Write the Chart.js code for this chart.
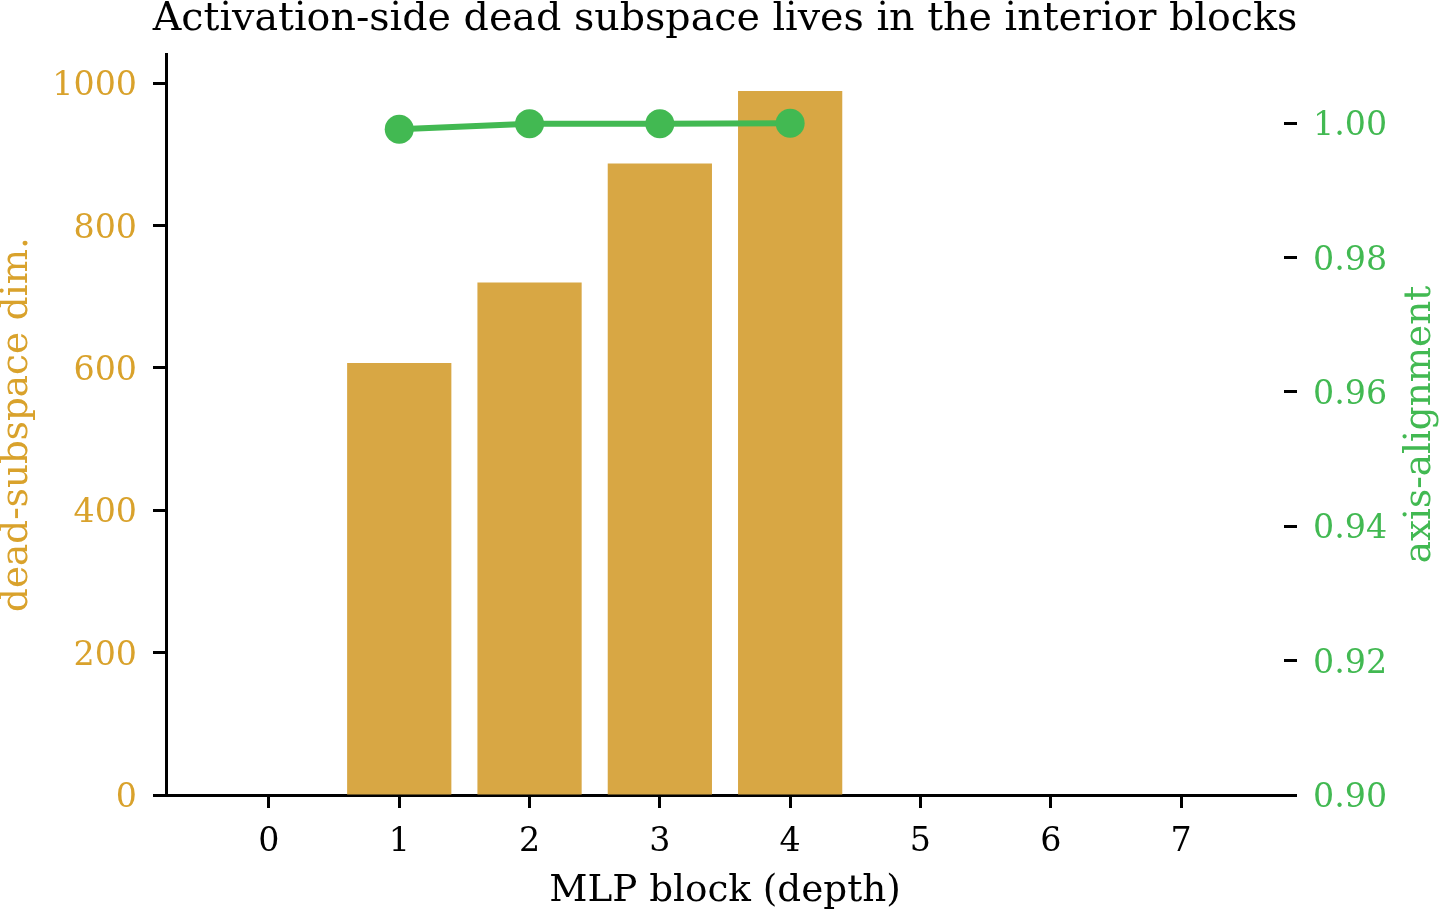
<!DOCTYPE html>
<html><head><meta charset="utf-8">
<script src="https://cdn.jsdelivr.net/npm/chart.js@4.4.1/dist/chart.umd.min.js"></script>
<style>html,body{margin:0;padding:0;background:#fff;}canvas{display:block;}</style>
</head><body>
<canvas id="c" width="1441" height="910"></canvas>
<script>
const blocks = [0, 1, 2, 3, 4, 5, 6, 7];
const deadDim = [0, 607, 720, 887, 989, 0, 0, 0];
const alignBlocks = [1, 2, 3, 4];
const axisAlign = [0.9991, 0.9999, 0.9999, 1.0000];
const leftTicks = [0, 200, 400, 600, 800, 1000];
const rightTicks = [0.90, 0.92, 0.94, 0.96, 0.98, 1.00];
const xTicks = [0, 1, 2, 3, 4, 5, 6, 7];

const GOLD = '#D8A744';
const GOLD_TEXT = '#D9A22C';
const GREEN = '#42B952';
const FONT = 'DejaVu Serif';
const TICK_SIZE = 33.3;
const LABEL_SIZE = 37.3;
const TITLE_SIZE = 39.6;

// Draw y tick labels (vertically centred on digits) and the right axis title (reading bottom-to-top)
const yLabelPlugin = {
  id: 'yLabels',
  afterDraw(chart) {
    const c = chart.ctx;
    c.save();
    c.font = TICK_SIZE + 'px "' + FONT + '"';
    c.textBaseline = 'alphabetic';
    const capHalf = 0.729 * TICK_SIZE / 2;
    const yL = chart.scales.yL, yR = chart.scales.yR;
    c.fillStyle = GOLD_TEXT; c.textAlign = 'right';
    leftTicks.forEach(v => {
      c.fillText(String(v), yL.right - 13 - 16, yL.getPixelForValue(v) + capHalf);
    });
    c.fillStyle = GREEN; c.textAlign = 'left';
    rightTicks.forEach(v => {
      c.fillText(v.toFixed(2), yR.left + 13 + 16, yR.getPixelForValue(v) + capHalf);
    });
    // right axis title
    c.font = LABEL_SIZE + 'px "' + FONT + '"';
    c.textAlign = 'center';
    c.textBaseline = 'middle';
    c.translate(yR.right - LABEL_SIZE / 2 - 2, (chart.chartArea.top + chart.chartArea.bottom) / 2);
    c.rotate(-Math.PI / 2);
    c.fillText('axis-alignment', 0, 0);
    c.restore();
  }
};

const ctx = document.getElementById('c').getContext('2d');
new Chart(ctx, {
  data: {
    datasets: [
      {
        type: 'line',
        data: alignBlocks.map((b, i) => ({x: b, y: axisAlign[i]})),
        yAxisID: 'yR',
        borderColor: GREEN,
        backgroundColor: GREEN,
        borderWidth: 6,
        pointRadius: 14.5,
        pointHoverRadius: 14.5,
        pointBorderWidth: 0,
        tension: 0,
        order: 0
      },
      {
        type: 'bar',
        data: blocks.map((b, i) => ({x: b, y: deadDim[i]})),
        yAxisID: 'yL',
        backgroundColor: GOLD,
        borderWidth: 0,
        barPercentage: 0.8,
        categoryPercentage: 1.0,
        order: 1
      }
    ]
  },
  options: {
    responsive: false,
    animation: false,
    layout: {padding: {left: 9, right: 0, top: 0, bottom: 0}},
    plugins: {
      legend: {display: false},
      tooltip: {enabled: false},
      title: {
        display: true,
        text: 'Activation-side dead subspace lives in the interior blocks',
        color: '#000',
        font: {family: FONT, size: TITLE_SIZE, weight: 'normal', lineHeight: 1.0},
        padding: {top: 0, bottom: 14.4}
      }
    },
    scales: {
      x: {
        type: 'linear',
        position: 'bottom',
        offset: false,
        min: -0.79, max: 7.79,
        afterBuildTicks: s => { s.ticks = xTicks.map(v => ({value: v})); },
        afterFit: s => { s.height = 115; },
        ticks: {color: '#000', font: {family: FONT, size: TICK_SIZE}, padding: 14, autoSkip: false, maxRotation: 0,
                callback: v => String(v)},
        grid: {display: true, offset: false, drawOnChartArea: false, drawTicks: true, tickLength: 13, tickColor: '#000', tickWidth: 3},
        border: {display: true, color: '#000', width: 3},
        title: {display: true, text: 'MLP block (depth)', color: '#000', font: {family: FONT, size: LABEL_SIZE, lineHeight: 1.0}, padding: {top: 0, bottom: 0}}
      },
      yL: {
        type: 'linear',
        position: 'left',
        min: 0, max: 1041,
        afterBuildTicks: s => { s.ticks = leftTicks.map(v => ({value: v})); },
        afterFit: s => { s.width = 157; },
        ticks: {display: false},
        grid: {display: true, drawOnChartArea: false, drawTicks: true, tickLength: 13, tickColor: '#000', tickWidth: 3},
        border: {display: true, color: '#000', width: 3},
        title: {display: true, text: 'dead-subspace dim.', color: GOLD_TEXT, font: {family: FONT, size: LABEL_SIZE, lineHeight: 1.0}, padding: {top: -10, bottom: 0}}
      },
      yR: {
        type: 'linear',
        position: 'right',
        min: 0.90, max: 1.0103,
        afterBuildTicks: s => { s.ticks = rightTicks.map(v => ({value: v})); },
        afterFit: s => { s.width = 157; },
        ticks: {display: false},
        grid: {display: true, drawOnChartArea: false, drawTicks: true, tickLength: 13, tickColor: '#000', tickWidth: 3},
        border: {display: false}
      }
    }
  },
  plugins: [yLabelPlugin]
});
</script>
</body></html>
